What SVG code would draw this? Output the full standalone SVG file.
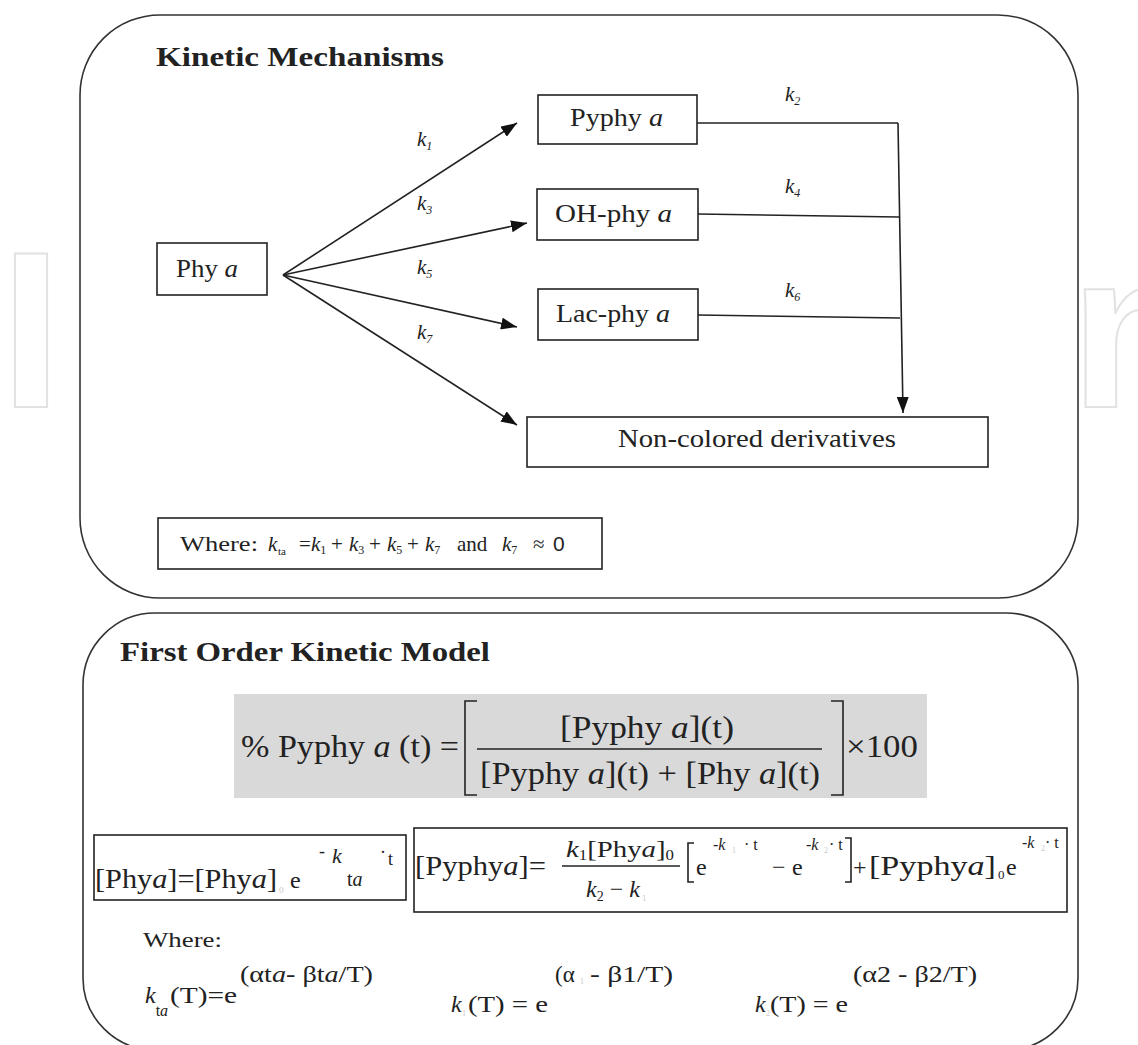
<svg xmlns="http://www.w3.org/2000/svg" width="1138" height="1045" viewBox="0 0 1138 1045">
<style>
.s{font-family:"Liberation Serif","DejaVu Serif",serif;fill:#222}
.b{font-weight:bold}
.i{font-style:italic}
.box{fill:#fff;stroke:#222;stroke-width:1.6}
.panel{fill:#fff;stroke:#333;stroke-width:1.6}
.ln{fill:none;stroke:#222;stroke-width:1.6}
.faint{fill:#c8c8c8;font-family:"Liberation Serif",serif}
.wm{font-family:"Liberation Sans",sans-serif;font-weight:bold;font-size:223px;fill:none;stroke:#e2e2e2;stroke-width:2}
</style>
<defs>
<marker id="arr" markerUnits="userSpaceOnUse" markerWidth="16" markerHeight="12" refX="16" refY="6" orient="auto">
<path d="M0,0 L16,6 L0,12 z" fill="#111"/>
</marker>
</defs>
<rect width="1138" height="1045" fill="#fff"/>
<g id="watermark">
<text class="wm" x="0" y="407">I</text>
<text class="wm" x="1070" y="407">n</text>
</g>

<g id="panel-top">
<rect class="panel" x="80" y="15" width="998" height="583" rx="80" ry="80"/>
<text class="s b" x="156" y="66" font-size="27" textLength="288" lengthAdjust="spacingAndGlyphs">Kinetic Mechanisms</text>
</g>

<g id="node-phya">
<rect class="box" x="157" y="243" width="110" height="52"/>
<text class="s" x="176" y="277" font-size="25" textLength="62" lengthAdjust="spacingAndGlyphs">Phy <tspan class="i">a</tspan></text>
</g>
<g id="node-pyphya">
<rect class="box" x="538" y="95" width="159" height="49"/>
<text class="s" x="570" y="126" font-size="25" textLength="93" lengthAdjust="spacingAndGlyphs">Pyphy <tspan class="i">a</tspan></text>
</g>
<g id="node-ohphya">
<rect class="box" x="537" y="189" width="161" height="51"/>
<text class="s" x="555" y="222" font-size="25" textLength="117" lengthAdjust="spacingAndGlyphs">OH-phy <tspan class="i">a</tspan></text>
</g>
<g id="node-lacphya">
<rect class="box" x="538" y="289" width="160" height="51"/>
<text class="s" x="556" y="322" font-size="25" textLength="114" lengthAdjust="spacingAndGlyphs">Lac-phy <tspan class="i">a</tspan></text>
</g>
<g id="node-noncolored">
<rect class="box" x="527" y="417" width="461" height="50"/>
<text class="s" x="618" y="447" font-size="25" textLength="278" lengthAdjust="spacingAndGlyphs">Non-colored derivatives</text>
</g>
<g id="node-where-top">
<rect class="box" x="158" y="518" width="444" height="51"/>
<text class="s" y="551" font-size="21"><tspan x="180" textLength="78" lengthAdjust="spacingAndGlyphs">Where:</tspan><tspan x="268" class="i">k</tspan><tspan x="278" y="555" font-size="11">ta</tspan><tspan x="299" y="551">=</tspan><tspan x="311" class="i">k</tspan><tspan font-size="12" dy="3">1</tspan><tspan x="331" dy="-3">+</tspan><tspan x="349" class="i">k</tspan><tspan font-size="12" dy="3">3</tspan><tspan x="369" dy="-3">+</tspan><tspan x="387" class="i">k</tspan><tspan font-size="12" dy="3">5</tspan><tspan x="407" dy="-3">+</tspan><tspan x="425" class="i">k</tspan><tspan font-size="12" dy="3">7</tspan><tspan x="457" y="551">and</tspan><tspan x="502" class="i">k</tspan><tspan font-size="12" dy="3">7</tspan><tspan x="533" y="551">≈</tspan><tspan x="553" font-family="Liberation Sans, sans-serif">0</tspan></text>
</g>

<g id="connectors">
<line class="ln" x1="283" y1="275" x2="517" y2="123" marker-end="url(#arr)"/>
<line class="ln" x1="283" y1="275" x2="527" y2="223" marker-end="url(#arr)"/>
<line class="ln" x1="283" y1="275" x2="517" y2="327" marker-end="url(#arr)"/>
<line class="ln" x1="283" y1="275" x2="517" y2="425" marker-end="url(#arr)"/>
<polyline class="ln" points="697,123 898,123"/>
<polyline class="ln" points="698,214 899,217"/>
<polyline class="ln" points="698,315 900,318"/>
<line class="ln" x1="898" y1="123" x2="903" y2="413" marker-end="url(#arr)"/>
<g class="s i" font-size="21">
<text x="417" y="146">k<tspan font-size="12" dy="4">1</tspan></text>
<text x="417" y="210">k<tspan font-size="12" dy="4">3</tspan></text>
<text x="417" y="274">k<tspan font-size="12" dy="4">5</tspan></text>
<text x="417" y="339">k<tspan font-size="12" dy="4">7</tspan></text>
<text x="785" y="101">k<tspan font-size="12" dy="4">2</tspan></text>
<text x="785" y="193">k<tspan font-size="12" dy="4">4</tspan></text>
<text x="785" y="297">k<tspan font-size="12" dy="4">6</tspan></text>
</g>
</g>

<g id="panel-bottom">
<rect class="panel" x="83" y="613" width="995" height="437" rx="72" ry="72"/>
<text class="s b" x="120" y="661" font-size="27" textLength="370" lengthAdjust="spacingAndGlyphs">First Order Kinetic Model</text>
</g>

<g id="formula-percent">
<rect x="234" y="694" width="693" height="104" fill="#d9d9d9"/>
<text class="s" x="241" y="757" font-size="31" textLength="218" lengthAdjust="spacingAndGlyphs">% Pyphy <tspan class="i">a</tspan> (t) =</text>
<polyline class="ln" stroke-width="2" points="477,701 465,701 465,795 477,795"/>
<text class="s" x="560" y="738" font-size="31" textLength="174" lengthAdjust="spacingAndGlyphs">[Pyphy <tspan class="i">a</tspan>](t)</text>
<line class="ln" x1="477" y1="749" x2="822" y2="749"/>
<text class="s" x="480" y="784" font-size="31" textLength="340" lengthAdjust="spacingAndGlyphs">[Pyphy <tspan class="i">a</tspan>](t) + [Phy <tspan class="i">a</tspan>](t)</text>
<polyline class="ln" stroke-width="2" points="831,701 843,701 843,795 831,795"/>
<text class="s" x="846" y="757" font-size="31" textLength="72" lengthAdjust="spacingAndGlyphs">×100</text>
</g>

<g id="formula-phya">
<rect class="box" x="94" y="835" width="312" height="65"/>
<text class="s" x="95" y="888" font-size="27" textLength="182" lengthAdjust="spacingAndGlyphs">[Phy<tspan class="i">a</tspan>]=[Phy<tspan class="i">a</tspan>]</text>
<text class="faint" x="279" y="893" font-size="9">0</text>
<text class="s" x="290" y="888" font-size="24">e</text>
<text class="s" x="319" y="857" font-size="18">-</text>
<text class="s i" x="332" y="863" font-size="22">k</text>
<text class="s" x="347" y="886" font-size="20">t<tspan class="i">a</tspan></text>
<text class="s" x="380" y="858" font-size="18">·</text>
<text class="s" x="388" y="865" font-size="18">t</text>
</g>

<g id="formula-pyphya">
<rect class="box" x="414" y="828" width="653" height="84"/>
<text class="s" x="415" y="875" font-size="27" textLength="131" lengthAdjust="spacingAndGlyphs">[Pyphy<tspan class="i">a</tspan>]=</text>
<text class="s" x="566" y="857" font-size="24" textLength="108" lengthAdjust="spacingAndGlyphs"><tspan class="i">k</tspan><tspan font-size="14" dy="3">1</tspan><tspan dy="-3">[Phy</tspan><tspan class="i">a</tspan>]<tspan font-size="14" dy="3">0</tspan></text>
<line class="ln" x1="562" y1="866" x2="680" y2="866"/>
<text class="s" x="586" y="897" font-size="24"><tspan class="i">k</tspan><tspan font-size="14" dy="4">2</tspan><tspan dy="-4"> − </tspan><tspan class="i">k</tspan></text>
<text class="faint" x="642" y="901" font-size="9">1</text>
<polyline class="ln" points="694,843 688,843 688,882 694,882"/>
<text class="s" x="696" y="875" font-size="24">e</text>
<text class="s" x="713" y="850" font-size="16">-<tspan class="i">k</tspan></text>
<text class="faint" x="732" y="853" font-size="8">1</text>
<text class="s" x="744" y="850" font-size="16">· t</text>
<text class="s" x="772" y="875" font-size="24">−</text>
<text class="s" x="792" y="875" font-size="24">e</text>
<text class="s" x="806" y="850" font-size="16">-<tspan class="i">k</tspan></text>
<text class="faint" x="824" y="853" font-size="8">2</text>
<text class="s" x="829" y="850" font-size="16">· t</text>
<polyline class="ln" points="845,838 851,838 851,882 845,882"/>
<text class="s" x="853" y="875" font-size="24">+</text>
<text class="s" x="869" y="875" font-size="27" textLength="127" lengthAdjust="spacingAndGlyphs">[Pyphy<tspan class="i">a</tspan>]</text>
<text class="s" x="998" y="879" font-size="13">0</text>
<text class="s" x="1006" y="875" font-size="24">e</text>
<text class="s" x="1022" y="848" font-size="16">-<tspan class="i">k</tspan></text>
<text class="faint" x="1041" y="851" font-size="8">2</text>
<text class="s" x="1045" y="848" font-size="16">· t</text>
</g>

<g id="formula-where">
<text class="s" x="143" y="947" font-size="21" fill="#444" textLength="79" lengthAdjust="spacingAndGlyphs">Where:</text>
<text class="s" x="145" y="1003" font-size="24"><tspan class="i">k</tspan><tspan font-size="16" dy="13">t</tspan><tspan class="i" font-size="16">a</tspan></text>
<text class="s" x="170" y="1003" font-size="24" textLength="67" lengthAdjust="spacingAndGlyphs">(T)=e</text>
<text class="s" x="240" y="982" font-size="23" textLength="133" lengthAdjust="spacingAndGlyphs">(αt<tspan class="i">a</tspan>- βt<tspan class="i">a</tspan>/T)</text>

<text class="s i" x="451" y="1012" font-size="24">k</text>
<text class="faint" x="462" y="1016" font-size="8">1</text>
<text class="s" x="468" y="1012" font-size="24" textLength="80" lengthAdjust="spacingAndGlyphs">(T) = e</text>
<text class="s" x="555" y="982" font-size="23">(α</text>
<text class="faint" x="580" y="984" font-size="8">1</text>
<text class="s" x="590" y="982" font-size="23" textLength="83" lengthAdjust="spacingAndGlyphs">- β1/T)</text>

<text class="s i" x="755" y="1012" font-size="24">k</text>
<text class="faint" x="766" y="1016" font-size="8">2</text>
<text class="s" x="770" y="1012" font-size="24" textLength="78" lengthAdjust="spacingAndGlyphs">(T) = e</text>
<text class="s" x="853" y="982" font-size="23" textLength="124" lengthAdjust="spacingAndGlyphs">(α2 - β2/T)</text>
</g>
</svg>
